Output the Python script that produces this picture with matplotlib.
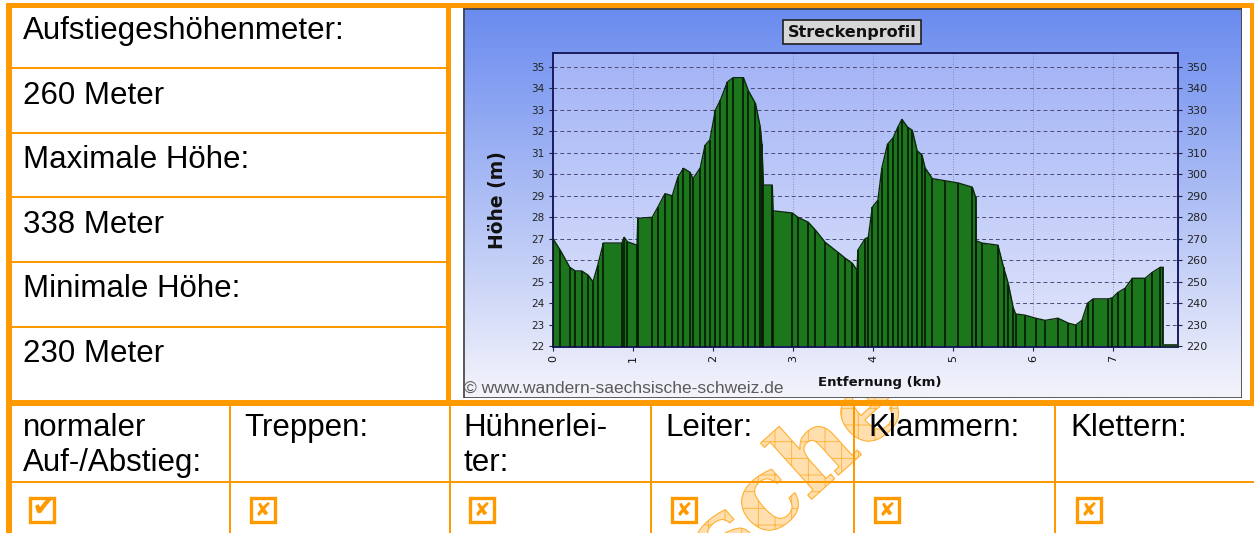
import matplotlib
matplotlib.use("Agg")
import matplotlib.pyplot as plt
import numpy as np
from matplotlib.colors import to_rgb
from matplotlib.font_manager import FontProperties
from matplotlib.patches import PathPatch, Rectangle
from matplotlib.textpath import TextPath
from matplotlib.transforms import Affine2D

W, H = 1254, 533
ORANGE = "#ff9900"
TEXT_FONT = ["Liberation Sans", "DejaVu Sans"]

# left column of the info table
info_lines = [
    "Aufstiegeshöhenmeter:",
    "260 Meter",
    "Maximale Höhe:",
    "338 Meter",
    "Minimale Höhe:",
    "230 Meter",
]

# bottom row: path type and whether it occurs on the tour
type_labels = [
    ["normaler", "Auf-/Abstieg:"],
    ["Treppen:"],
    ["Hühnerlei-", "ter:"],
    ["Leiter:"],
    ["Klammern:"],
    ["Klettern:"],
]
type_present = [True, False, False, False, False, False]

# elevation profile
dist_km = [
    0.00, 0.09, 0.21, 0.28, 0.36, 0.44, 0.50, 0.56, 0.63, 0.86,
    0.89, 0.93, 1.05, 1.06, 1.24, 1.31, 1.40, 1.49, 1.56, 1.63,
    1.71, 1.75, 1.84, 1.90, 1.96, 2.03, 2.09, 2.18, 2.25, 2.38,
    2.44, 2.53, 2.59, 2.61, 2.63, 2.74, 2.75, 2.99, 3.06, 3.19,
    3.28, 3.40, 3.56, 3.65, 3.74, 3.80, 3.81, 3.90, 3.94, 3.99,
    4.06, 4.11, 4.18, 4.25, 4.31, 4.36, 4.43, 4.49, 4.55, 4.61,
    4.65, 4.74, 4.90, 5.06, 5.24, 5.28, 5.29, 5.36, 5.56, 5.63,
    5.69, 5.75, 5.78, 5.90, 6.03, 6.15, 6.31, 6.44, 6.53, 6.61,
    6.68, 6.75, 6.94, 6.99, 7.06, 7.15, 7.24, 7.40, 7.49, 7.59,
    7.62,
]
elev_m = [
    270.0, 264.7, 256.7, 255.0, 255.0, 253.0, 250.0, 257.7, 268.0, 268.0,
    270.7, 268.6, 267.0, 279.5, 280.0, 284.7, 291.0, 290.0, 298.6, 302.8,
    301.0, 298.0, 303.0, 313.5, 316.0, 330.0, 334.4, 343.0, 345.0, 345.0,
    339.0, 333.0, 322.0, 314.0, 295.0, 295.0, 283.0, 282.0, 280.0, 277.7,
    274.0, 268.4, 263.7, 261.0, 258.6, 255.3, 264.7, 270.0, 270.7, 284.7,
    288.0, 303.0, 314.0, 317.0, 322.0, 325.6, 322.0, 320.5, 311.0, 309.0,
    303.0, 298.0, 297.0, 296.0, 294.0, 289.5, 269.0, 268.0, 267.0, 256.7,
    249.0, 238.0, 235.0, 234.4, 233.0, 232.0, 233.0, 230.7, 229.8, 232.0,
    240.0, 242.0, 242.0, 242.5, 245.0, 247.0, 251.6, 251.6, 254.4, 256.7,
    256.7,
]
km_ticks = [0, 1, 2, 3, 4, 5, 6, 7]
elev_ticks = [220, 230, 240, 250, 260, 270, 280, 290, 300, 310, 320, 330, 340, 350]


def frac_box(x0, y0, x1, y1):
    """Pixel box (y down) -> figure fraction [left, bottom, width, height]."""
    return [x0 / W, 1 - y1 / H, (x1 - x0) / W, (y1 - y0) / H]


def vgradient(top, bottom, n=256):
    t = np.linspace(0, 1, n)[:, None]
    c = (1 - t) * np.array(to_rgb(top)) + t * np.array(to_rgb(bottom))
    return c[:, None, :]


def fill_px(ax, x0, y0, x1, y1, color=ORANGE, z=3):
    ax.add_patch(Rectangle((x0, y0), x1 - x0, y1 - y0, facecolor=color, lw=0, zorder=z))


def checkbox(ax, x, y, size, present):
    ax.add_patch(Rectangle((x + 1.5, y + 1.5), size - 3, size - 3, facecolor="white",
                           edgecolor=ORANGE, lw=2.4, zorder=4))
    if present:
        ax.text(x + size * 0.6, y + size * 0.45, "\u2714", fontsize=21, color=ORANGE,
                ha="center", va="center", family=["DejaVu Sans"], zorder=5)
    else:
        ax.text(x + size / 2, y + size / 2 + 1, "\u2718", fontsize=14, color=ORANGE,
                ha="center", va="center", family=["DejaVu Sans"], zorder=5)


fig = plt.figure(figsize=(W / 100, H / 100), dpi=100)
bg = fig.add_axes([0, 0, 1, 1])
bg.set_xlim(0, W)
bg.set_ylim(H, 0)
bg.axis("off")

# watermark behind the table
plt.rcParams["hatch.linewidth"] = 0.6
wm_path = TextPath((0, 0), "sche", size=100,
                   prop=FontProperties(family="DejaVu Serif", weight="bold"))
wm_tr = Affine2D().scale(1, -1).rotate_deg(-42).translate(722, 580)
bg.add_patch(PathPatch(wm_tr.transform_path(wm_path), facecolor="#ffdfae",
                       edgecolor="#ffb030", hatch="+", lw=0.8, zorder=0.5))

# thick table frame
fill_px(bg, 6, 3, W, 8)
fill_px(bg, 6, 3, 12, H)
fill_px(bg, 446, 3, 451, 403)
fill_px(bg, 1250, 3, W, 403)
fill_px(bg, 6, 400, W, 406)

# thin row lines in the left column
for yl in [68, 133, 197, 262, 327]:
    fill_px(bg, 12, yl - 1, 446, yl + 1)

# bottom row grid
col_div = [230, 450, 651, 854, 1055]
for xd in col_div:
    fill_px(bg, xd - 1, 406, xd + 1, H)
fill_px(bg, 12, 481, W, 483)

for i, s in enumerate(info_lines):
    bg.text(23, 39 + i * 64.6, s, fontsize=22.5, va="baseline", ha="left",
            family=TEXT_FONT, zorder=5)

col_x = [23, 244, 463, 665, 868, 1070]
for xc, lines, present in zip(col_x, type_labels, type_present):
    for j, s in enumerate(lines):
        bg.text(xc, 436 + j * 35, s, fontsize=22.5, va="baseline", ha="left",
                family=TEXT_FONT, zorder=5)
    checkbox(bg, xc + 5, 496, 27, present)

# ---- embedded elevation chart ----
cx0, cy0, cx1, cy1 = 463, 8, 1242, 398
chart = fig.add_axes(frac_box(cx0, cy0, cx1, cy1))
chart.set_xlim(cx0, cx1)
chart.set_ylim(cy1, cy0)
chart.axis("off")
chart.imshow(vgradient("#6a8bef", "#f4f4fb"), extent=(cx0, cx1, cy1, cy0),
             aspect="auto", zorder=0)
chart.add_patch(Rectangle((cx0 + 0.5, cy0 + 0.5), cx1 - cx0 - 1, cy1 - cy0 - 1,
                          fill=False, edgecolor="#404040", lw=1.2, zorder=2))
chart.text(852, 32, "Streckenprofil", fontsize=11.5, fontweight="bold", ha="center",
           va="center", family=["DejaVu Sans"], color="#111111",
           bbox=dict(boxstyle="square,pad=0.3", facecolor="#d6d6d6",
                     edgecolor="#202020", lw=1.2))
chart.text(497, 200, "Höhe (m)", fontsize=13.5, fontweight="bold", rotation=90,
           ha="center", va="center", family=["DejaVu Sans"], color="#111111")
chart.text(880, 386, "Entfernung (km)", fontsize=9.5, fontweight="bold", ha="center",
           va="baseline", family=["DejaVu Sans"], color="#111111", zorder=3)
chart.text(464, 393, "\u00a9 www.wandern-saechsische-schweiz.de", fontsize=12.5,
           ha="left", va="baseline", family=TEXT_FONT, color="#5a5a5a", zorder=3)

ax = fig.add_axes(frac_box(553, 53, 1178, 347))
ax.set_facecolor("none")
ax.imshow(vgradient("#a2b3f6", "#e2e6fb"), extent=(0, 1, 0, 1), transform=ax.transAxes,
          aspect="auto", zorder=0)
ax.set_xlim(0, 7.81)
ax.set_ylim(219.6, 356.5)

for yv in elev_ticks:
    ax.axhline(yv, color="#4a4a78", lw=0.7, ls=(0, (4, 3)), zorder=1)
for xv in km_ticks:
    ax.axvline(xv, color="#7a7aa0", lw=0.6, ls=(0, (1, 2)), zorder=1)

ax.fill_between(dist_km, 219.6, elev_m, color="#1c761c", lw=0, zorder=2)
ax.vlines(dist_km, 219.6, elev_m, color="#061806", lw=1.2, zorder=3)
ax.plot(dist_km, elev_m, color="#0a2a0a", lw=1.0, zorder=3)
ax.plot([dist_km[-1], 7.81], [220.3, 220.3], color="#1c3a1c", lw=2.0, zorder=3)

for sp in ax.spines.values():
    sp.set_color("#1a1a60")
    sp.set_linewidth(1.4)

ax.set_xticks(km_ticks)
ax.set_xticklabels([str(k) for k in km_ticks], rotation=90, fontsize=8,
                   family=["DejaVu Sans"], color="#111111")
ax.set_yticks(elev_ticks)
ax.set_yticklabels([str(v // 10) for v in elev_ticks], fontsize=7.5,
                   family=["DejaVu Sans"], color="#222222")
ax.tick_params(axis="both", length=3, width=0.8, color="#222244", pad=3)

ax2 = ax.twinx()
ax2.set_ylim(ax.get_ylim())
ax2.set_yticks(elev_ticks)
ax2.set_yticklabels([str(v) for v in elev_ticks], fontsize=8,
                    family=["DejaVu Sans"], color="#222222")
ax2.tick_params(axis="y", length=3, width=0.8, color="#222244", pad=3)
for sp in ax2.spines.values():
    sp.set_visible(False)

fig.savefig("out.png", dpi=100)
